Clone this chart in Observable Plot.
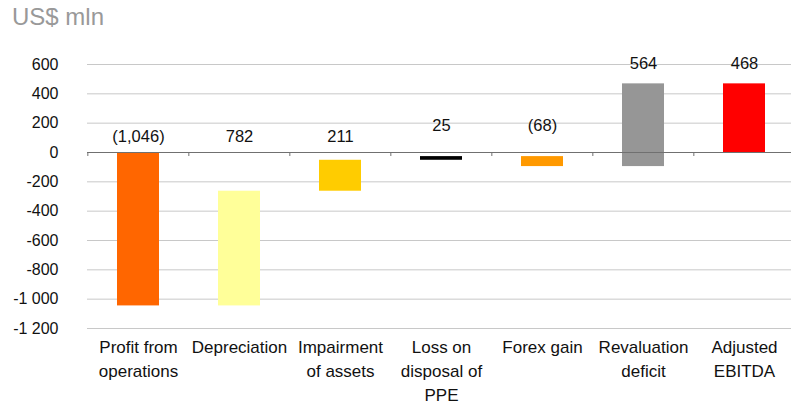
<!DOCTYPE html>
<html><head><meta charset="utf-8">
<script src="https://cdn.jsdelivr.net/npm/d3@7"></script>
<script src="https://cdn.jsdelivr.net/npm/@observablehq/plot@0.6"></script>
<style>
body{margin:0;background:#fff;}
#wrap{position:relative;width:791px;height:405px;overflow:hidden;}
#title{position:absolute;left:12px;top:5px;font-family:"Liberation Sans",Arial,sans-serif;font-size:24px;line-height:24px;color:#999;}
</style></head><body>
<div id="wrap"><div id="title">US$ mln</div></div>
<script>
const categories = ["Profit from\noperations","Depreciation","Impairment\nof assets","Loss on\ndisposal of\nPPE","Forex gain","Revaluation\ndeficit","Adjusted\nEBITDA"];
const changes = [-1046, 782, 211, 25, -68, 564];
const total = 468;
const valueLabels = ["(1,046)","782","211","25","(68)","564","468"];
const labelLevels = [75, 75, 75, 150, 150, 566, 566];
const colors = ["#ff6600","#ffff99","#ffcc00","#000000","#ff9900","#969696","#ff0000"];
const yTicks = [600,400,200,0,-200,-400,-600,-800,-1000,-1200];

let run = 0;
const bars = changes.map((v, i) => {
  const start = run; run += v;
  return {cat: categories[i], y1: start, y2: run, color: colors[i], label: valueLabels[i], ly: labelLevels[i]};
});
bars.push({cat: categories[6], y1: 0, y2: total, color: colors[6], label: valueLabels[6], ly: labelLevels[6]});

const xRange = [87, 796.3];
const step = (xRange[1] - xRange[0]) / categories.length;
const fmt = d => (d < 0 ? "-" : "") + String(Math.abs(d)).replace(/\B(?=(\d{3})+(?!\d))/g, " ");

const chart = Plot.plot({
  width: 791, height: 405,
  marginTop: 64, marginBottom: 77, marginLeft: 87, marginRight: 0,
  style: {fontFamily: "'Liberation Sans', Arial, sans-serif", fontSize: "16px", color: "#000", background: "#fff"},
  x: {domain: categories, range: xRange, paddingInner: 0.58, paddingOuter: 0.29, axis: null},
  y: {domain: [-1200, 600], axis: null},
  color: {type: "identity"},
  marks: [
    Plot.ruleY(yTicks.filter(d => d !== 0), {stroke: "#c8c8c8", strokeWidth: 1}),
    Plot.barY(bars, {x: "cat", y1: "y1", y2: "y2", fill: "color"}),
    Plot.ruleY([0], {stroke: "#707070", strokeWidth: 1}),
    Plot.ruleX(categories, {x: d => d, y1: 0, y2: 0, dx: -step / 2, insetBottom: -4, stroke: "#707070"}),
    Plot.text(bars, {x: "cat", y: "ly", text: "label", lineAnchor: "bottom", fontSize: 16.5, fill: "#111"}),
    Plot.text(categories, {x: d => d, text: d => d, frameAnchor: "bottom", lineAnchor: "top", dy: 8, lineHeight: 1.4, fontSize: 17, fill: "#111"}),
    Plot.axisY(yTicks, {tickSize: 0, tickPadding: 29, tickFormat: fmt, fontSize: 16, fill: "#111", label: null})
  ]
});
document.getElementById("wrap").prepend(chart);
</script>
</body></html>
